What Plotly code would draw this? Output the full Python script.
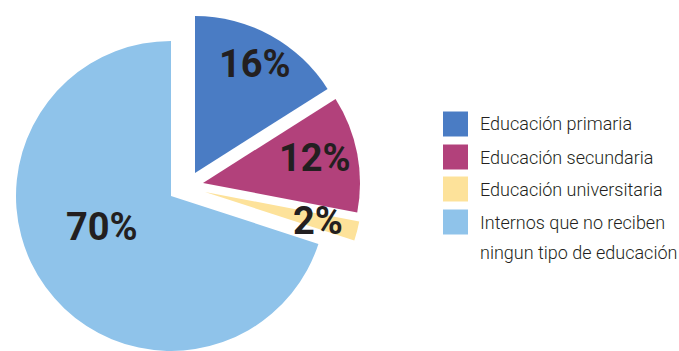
import math
import plotly.graph_objects as go

# ---- data ----
categories = ["Educación primaria", "Educación secundaria", "Educación universitaria",
              "Internos que no reciben<br>ningun tipo de educación"]
values = [16, 12, 2, 70]

# ---- style ----
W, H = 679, 351
colors = ["#4a7cc4", "#b2417b", "#fde29a", "#8fc3ea"]
base_center = (171, 196)          # px, unexploded pie centre
radius = [157, 157, 157, 155]     # px
explode_px = [(24, -23), (32, -13), (34, -4), (0, 0)]   # px offset of each slice
label_frac = [0.79, 0.73, 0.74, 0.49]
label_rot = [0, -2, 0, 12]        # deg tweak from bisector
text_color = "#231f20"
pct_font = "Roboto, Liberation Sans, sans-serif"
leg_font = "Roboto, Liberation Sans, sans-serif"

fig = go.Figure()
total = sum(values)
cum = 0
annotations = []
for i, v in enumerate(values):
    cx = base_center[0] + explode_px[i][0]
    cy = base_center[1] + explode_px[i][1]
    r = radius[i]
    cols = ["rgba(0,0,0,0)"] * len(values)
    cols[i] = colors[i]
    fig.add_trace(go.Pie(
        labels=categories, values=values, sort=False, direction="clockwise", rotation=0,
        marker=dict(colors=cols, line=dict(width=0)), textinfo="none", hoverinfo="skip",
        showlegend=False,
        domain=dict(x=[(cx - r) / W, (cx + r) / W], y=[max(0, 1 - (cy + r) / H), min(1, 1 - (cy - r) / H)]),
    ))
    theta = math.radians(360 * (cum + v / 2) / total + label_rot[i])
    lx = cx + label_frac[i] * r * math.sin(theta)
    ly = cy - label_frac[i] * r * math.cos(theta)
    annotations.append(dict(x=lx / W, y=1 - ly / H, xref="paper", yref="paper",
                            text=f"<b>{v}%</b>", showarrow=False, xanchor="center", yanchor="middle",
                            font=dict(size=38, color=text_color, family=pct_font)))
    cum += v

# ---- legend (manual) ----
shapes = []
leg_x0, leg_sq, leg_text_x = 443, 25, 478
row_y = [124, 157, 189, 222]
line_gap = 30
for i, lab in enumerate(categories):
    yc = row_y[i]
    shapes.append(dict(type="rect", xref="paper", yref="paper",
                       x0=leg_x0 / W, x1=(leg_x0 + leg_sq) / W,
                       y0=1 - (yc + leg_sq / 2) / H, y1=1 - (yc - leg_sq / 2) / H,
                       fillcolor=colors[i], line=dict(width=0)))
    for j, part in enumerate(lab.split("<br>")):
        annotations.append(dict(x=leg_text_x / W, y=1 - (yc + j * line_gap) / H, xref="paper", yref="paper",
                                text=part, showarrow=False, xanchor="left", yanchor="middle",
                                font=dict(size=18, color=text_color, family=leg_font, weight=300)))

fig.update_layout(width=W, height=H, margin=dict(l=0, r=0, t=0, b=0, pad=0),
                  paper_bgcolor="white", plot_bgcolor="white", showlegend=False,
                  annotations=annotations, shapes=shapes)
fig.write_html("out.html")
